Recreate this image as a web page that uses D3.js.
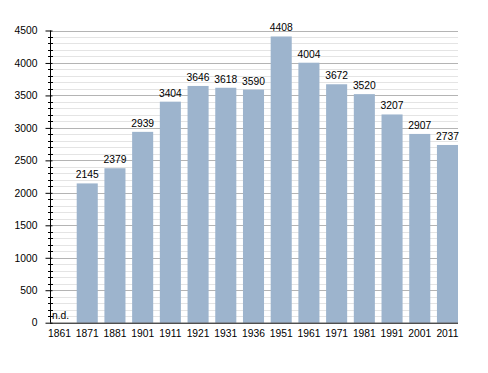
<!DOCTYPE html>
<html>
<head>
<meta charset="utf-8">
<script src="https://cdn.jsdelivr.net/npm/d3@7"></script>
<style>
body { margin: 0; background: #fff; }
text { font-family: "Liberation Sans", Arial, sans-serif; }
</style>
</head>
<body>
<div id="main"></div>
<script>
var years = ["1861","1871","1881","1901","1911","1921","1931","1936","1951","1961","1971","1981","1991","2001","2011"];
var population = [null,2145,2379,2939,3404,3646,3618,3590,4408,4004,3672,3520,3207,2907,2737];
var yTicks = [0,500,1000,1500,2000,2500,3000,3500,4000,4500];

var width = 488, height = 373;
var plotLeft = 50, plotRight = 458, plotTop = 30.5, plotBottom = 322.7;
var fs = "10.3px";

var svg = d3.select("#main").append("svg")
  .attr("width", width)
  .attr("height", height);

var x = d3.scaleBand().domain(years).range([plotLeft - 1, plotRight]).paddingInner(0.24).paddingOuter(0);
var y = d3.scaleLinear().domain([0, 4500]).range([plotBottom, plotTop]);

// minor grid every 100
var minor = d3.range(100, 4600, 100).filter(function(v) { return v % 500 != 0; });
svg.append("g").selectAll("line").data(minor).enter().append("line")
  .attr("x1", plotLeft).attr("x2", plotRight)
  .attr("y1", function(d) { return Math.round(y(d)) + 0.5; })
  .attr("y2", function(d) { return Math.round(y(d)) + 0.5; })
  .attr("stroke", "#e4e4e4");

svg.append("g").selectAll("line").data(yTicks.slice(1)).enter().append("line")
  .attr("x1", plotLeft).attr("x2", plotRight)
  .attr("y1", function(d) { return Math.round(y(d)) + 0.5; })
  .attr("y2", function(d) { return Math.round(y(d)) + 0.5; })
  .attr("stroke", "#b4b4b4");

// bars
svg.append("g").selectAll("rect").data(years).enter()
  .filter(function(d, i) { return population[i] != null; })
  .append("rect")
  .attr("x", function(d) { return x(d); })
  .attr("width", x.bandwidth())
  .attr("y", function(d) { return y(population[years.indexOf(d)]); })
  .attr("height", function(d) { return plotBottom - y(population[years.indexOf(d)]); })
  .attr("fill", "#9db4cd");

// value labels
svg.append("g").selectAll("text").data(years).enter().append("text")
  .attr("x", function(d, i) { return population[i] == null ? plotLeft + 2 : x(d) + x.bandwidth() / 2; })
  .attr("y", function(d, i) { return population[i] == null ? plotBottom - 4 : y(population[i]) - 5; })
  .attr("text-anchor", function(d, i) { return population[i] == null ? "start" : "middle"; })
  .attr("font-size", fs)
  .attr("fill", "#000")
  .text(function(d, i) { return population[i] == null ? "n.d." : population[i]; });

// y axis
var yAxis = d3.axisLeft(y).tickValues(yTicks).tickFormat(d3.format("d")).tickSize(5).tickPadding(8);
var ga = svg.append("g").attr("transform", "translate(" + (plotLeft + 0.5) + ",0)").call(yAxis);
ga.select(".domain").remove();
ga.selectAll(".tick line").attr("x2", -5).attr("x1", 2).attr("stroke", "#000");
ga.selectAll(".tick text").attr("font-size", fs).attr("font-family", "Liberation Sans, Arial, sans-serif");

svg.append("g").selectAll("line").data(minor).enter().append("line")
  .attr("x1", plotLeft - 2).attr("x2", plotLeft + 3)
  .attr("y1", function(d) { return Math.round(y(d)) + 0.5; })
  .attr("y2", function(d) { return Math.round(y(d)) + 0.5; })
  .attr("stroke", "#000");

svg.append("line")
  .attr("x1", plotLeft + 0.5).attr("x2", plotLeft + 0.5)
  .attr("y1", plotTop).attr("y2", plotBottom)
  .attr("stroke", "#000");

// x axis
var xAxis = d3.axisBottom(x).tickSize(0).tickPadding(6);
var gx = svg.append("g").attr("transform", "translate(0," + (plotBottom + 0.5) + ")").call(xAxis);
gx.select(".domain").attr("d", "M" + plotLeft + ",0H" + plotRight).attr("stroke", "#000");
gx.selectAll(".tick text").attr("font-size", fs).attr("font-family", "Liberation Sans, Arial, sans-serif");
</script>
</body>
</html>
